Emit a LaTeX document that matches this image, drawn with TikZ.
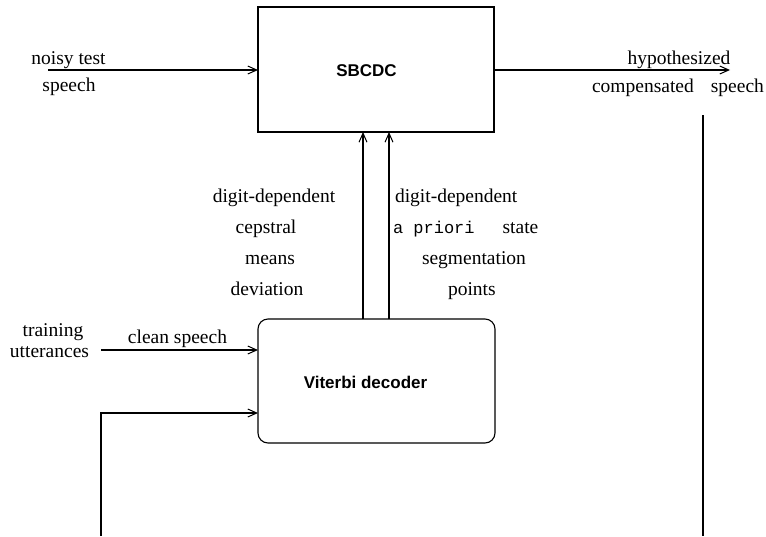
\documentclass[tikz,border=0pt]{standalone}
\usepackage{fontspec}
\setmainfont{Liberation Serif}
\newfontfamily\boxfont{Liberation Sans}
\newfontfamily\monofont{Liberation Mono}
\usetikzlibrary{arrows.meta}
\begin{document}
\begin{tikzpicture}[x=1pt,y=-1pt,
  every node/.style={inner sep=0pt,outer sep=0pt},
  blockbox/.style={draw,line width=1.1pt,minimum width=236pt,minimum height=125pt},
  roundbox/.style={blockbox,rounded corners=10pt,minimum width=237pt,minimum height=124pt},
  boxlabel/.style={font=\boxfont\bfseries\fontsize{17}{20}\selectfont},
  txt/.style={font=\fontsize{19.5}{23}\selectfont,anchor=base},
  wire/.style={line width=1.1pt},
  arr/.style={wire,-{Straight Barb[length=9pt,width=8pt,line width=1pt]}}]
\useasboundingbox (0,0) rectangle (766,536);

% processing blocks
\node[blockbox] (sbcdc) at (376,69.5) {};
\node[roundbox] (vit) at (376.5,381) {};
\node[boxlabel] (sbcdclabel) at (366.5,70.5) {SBCDC};
\node[boxlabel] (vitlabel) at (365.5,382) {Viterbi decoder};

% free ends of the signal lines
\coordinate (noisyin) at (48,70);
\coordinate (hypout) at (730,70);
\coordinate (cleanin) at (101,350);
\coordinate (fbstart) at (101,536);
\coordinate (fbend) at (258,413);
\coordinate (rtop) at (703,115);
\coordinate (rbot) at (703,536);

% signal flow
\draw[arr] (noisyin) -- (noisyin -| sbcdc.west);
\draw[arr] (sbcdc.east |- hypout) -- (hypout);
\draw[arr] (cleanin) -- (cleanin -| vit.west);
\draw[arr] (fbstart) |- (fbend);
\draw[wire] (rtop) -- (rbot);
\draw[arr] (vit.north -| 363,0) -- (sbcdc.south -| 363,0);
\draw[arr] (vit.north -| 389,0) -- (sbcdc.south -| 389,0);

% labels of the input and output signals
\node[txt] (noisy1) at (68.5,64) {noisy test};
\node[txt] (noisy2) at (69,91) {speech};
\node[txt] (hyp1) at (679,64) {hypothesized};
\node[txt] (hyp2) at (678,92) {compensated\hspace{17pt}speech};
\node[txt] (train1) at (53,336) {training};
\node[txt] (train2) at (49.5,357) {utterances};
\node[txt] (clean) at (177.5,343) {clean speech};

% labels of the two links into SBCDC
\node[txt] (cm1) at (274,202) {digit-dependent};
\node[txt] (cm2) at (266,233) {cepstral};
\node[txt] (cm3) at (270,264) {means};
\node[txt] (cm4) at (267,295) {deviation};
\node[txt,anchor=base west] (sp1) at (395,202) {digit-dependent};
\node[txt,anchor=base west] (sp2) at (393,233) {{\monofont\fontsize{17}{20}\selectfont a priori}\hspace{28pt}state};
\node[txt,anchor=base west] (sp3) at (422,264) {segmentation};
\node[txt,anchor=base west] (sp4) at (448,295) {points};
\end{tikzpicture}
\end{document}
